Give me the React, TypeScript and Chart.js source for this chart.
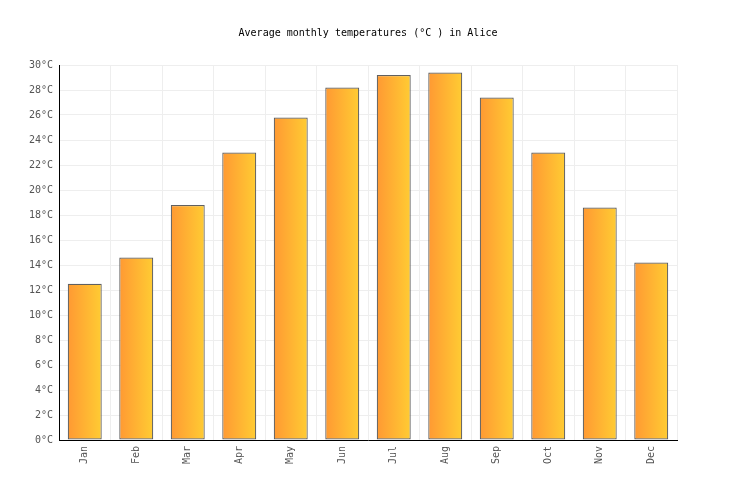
import React, { useEffect, useRef } from "react"
import { Chart, registerables } from "chart.js"

Chart.register(...registerables)

const months = ["Jan", "Feb", "Mar", "Apr", "May", "Jun", "Jul", "Aug", "Sep", "Oct", "Nov", "Dec"]
const temps = [12.5, 14.6, 18.8, 23.0, 25.8, 28.2, 29.2, 29.4, 27.4, 23.0, 18.6, 14.2]

const FONT = "'DejaVu Sans Mono', monospace"
const BAR_PCT = 0.66

const App: React.FC = () => {
  const chartRef = useRef<HTMLCanvasElement | null>(null)

  useEffect(() => {
    if (!chartRef.current) return
    const ctx = chartRef.current.getContext("2d")
    if (!ctx) return

    const chartInstance = new Chart(ctx, {
      type: "bar",
      data: {
        labels: months,
        datasets: [
          {
            label: "Temperature",
            data: temps,
            backgroundColor: (c: any) => {
              const chart = c.chart
              const xScale = chart.scales?.x
              if (!chart.chartArea || !xScale) return "#ffb333"
              const cx = xScale.getPixelForValue(c.dataIndex)
              const half = (xScale.width / months.length) * BAR_PCT / 2
              const g = chart.ctx.createLinearGradient(cx - half, 0, cx + half, 0)
              g.addColorStop(0, "#ff9933")
              g.addColorStop(1, "#ffcc33")
              return g
            },
            borderColor: "#606060",
            borderWidth: 1.2,
            borderSkipped: false,
            categoryPercentage: BAR_PCT,
            barPercentage: 1,
          },
        ],
      },
      options: {
        responsive: false,
        animation: false,
        devicePixelRatio: 1,
        layout: { padding: 0 },
        plugins: {
          legend: { display: false },
          tooltip: { enabled: false },
          title: {
            display: true,
            text: "Average monthly temperatures (°C ) in Alice",
            color: "#000000",
            font: { family: FONT, size: 10, weight: "normal" },
            padding: { top: 27, bottom: 26 },
          },
        },
        scales: {
          x: {
            offset: true,
            grid: { color: "#eeeeee", offset: true, drawTicks: false },
            border: { color: "#000000", width: 1 },
            ticks: {
              color: "#555555",
              font: { family: FONT, size: 10 },
              minRotation: 90,
              maxRotation: 90,
              padding: 6,
            },
            afterFit: (scale: any) => {
              scale.height = 60
            },
          },
          y: {
            min: 0,
            max: 30,
            grid: { color: "#eeeeee", drawTicks: false },
            border: { color: "#000000", width: 1 },
            ticks: {
              stepSize: 2,
              color: "#555555",
              font: { family: FONT, size: 10 },
              padding: 6,
              callback: (v: any) => v + "°C",
            },
            afterFit: (scale: any) => {
              scale.width = 59
            },
          },
          yRight: {
            position: "right",
            min: 0,
            max: 30,
            grid: { display: false, drawTicks: false },
            border: { display: false },
            ticks: { display: false },
            afterFit: (scale: any) => {
              scale.width = 59
            },
          },
        },
      },
    })

    return () => {
      chartInstance.destroy()
    }
  }, [])

  return (
    <div style={{ position: "absolute", left: 0, top: 0, width: 736, height: 500, background: "#fff" }}>
      <canvas ref={chartRef} width={736} height={500} />
    </div>
  )
}

export default App
